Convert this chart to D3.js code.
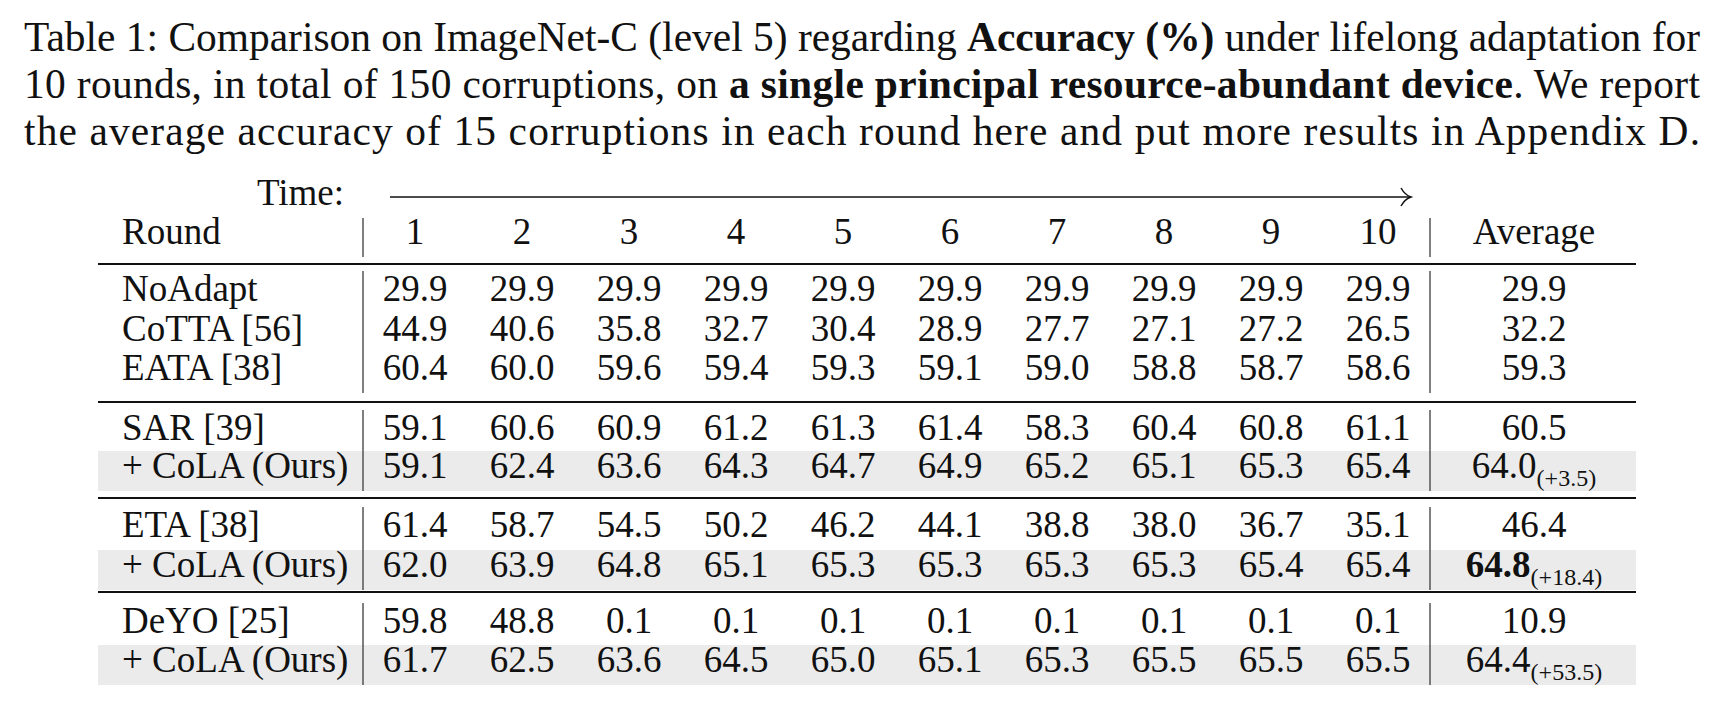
<!DOCTYPE html>
<html><head><meta charset="utf-8">
<script src="https://cdn.jsdelivr.net/npm/d3@7"></script>
<style>body{margin:0;background:#fff}text{font-family:"Liberation Serif","Times New Roman",serif;fill:#111}</style>
</head><body><svg id="c" width="1709" height="710"></svg>
<script>
const captionLines = [
  [["Table 1: Comparison on ImageNet-C (level 5) regarding ", false], ["Accuracy (%)", true], [" under lifelong adaptation for", false]],
  [["10 rounds, in total of 150 corruptions, on ", false], ["a single principal resource-abundant device", true], [". We report", false]],
  [["the average accuracy of 15 corruptions in each round here and put more results in Appendix D.", false]]
];
const rounds = ["1","2","3","4","5","6","7","8","9","10"];
const methods = ["NoAdapt","CoTTA [56]","EATA [38]","SAR [39]","+ CoLA (Ours)","ETA [38]","+ CoLA (Ours)","DeYO [25]","+ CoLA (Ours)"];
const values = [
  [29.9,29.9,29.9,29.9,29.9,29.9,29.9,29.9,29.9,29.9],
  [44.9,40.6,35.8,32.7,30.4,28.9,27.7,27.1,27.2,26.5],
  [60.4,60.0,59.6,59.4,59.3,59.1,59.0,58.8,58.7,58.6],
  [59.1,60.6,60.9,61.2,61.3,61.4,58.3,60.4,60.8,61.1],
  [59.1,62.4,63.6,64.3,64.7,64.9,65.2,65.1,65.3,65.4],
  [61.4,58.7,54.5,50.2,46.2,44.1,38.8,38.0,36.7,35.1],
  [62.0,63.9,64.8,65.1,65.3,65.3,65.3,65.3,65.4,65.4],
  [59.8,48.8,0.1,0.1,0.1,0.1,0.1,0.1,0.1,0.1],
  [61.7,62.5,63.6,64.5,65.0,65.1,65.3,65.5,65.5,65.5]
];
const averages = ["29.9","32.2","59.3","60.5","64.0","46.4","64.8","10.9","64.4"];
const gains = [null,null,null,null,"(+3.5)",null,"(+18.4)",null,"(+53.5)"];
const boldAvg = [false,false,false,false,false,false,true,false,false];
const shaded = [false,false,false,false,true,false,true,false,true];
const groups = [[0,2],[3,4],[5,6],[7,8]];
const rowBase = [301,341,380,440,478,537,577,633,672];

const svg = d3.select("#c");
const FONT = "Liberation Serif";

// caption, justified
const capX = 24, capW = 1676, capBase = [51, 98, 145];
const cap = svg.append("g").attr("font-family", FONT).attr("font-size", 36);
captionLines.forEach((line, i) => {
  const t = cap.append("text").attr("x", capX).attr("y", capBase[i]);
  line.forEach(([s, b]) => t.append("tspan").attr("font-weight", b ? "bold" : null).text(s));
});
const natural = cap.select("text").node().getComputedTextLength();
cap.attr("font-size", 36 * capW / natural);
cap.selectAll("text").attr("textLength", capW).attr("lengthAdjust", "spacing");

// table
const fs = 37;
const x = d3.scalePoint().domain(rounds).range([415, 1378]);
const labelX = 122, sep1 = 363, sep2 = 1430, avgX = 1534, L = 98, R = 1636;

const g = svg.append("g").attr("font-size", fs).attr("font-family", FONT);
rowBase.forEach((b, i) => { if (shaded[i]) g.append("rect").attr("x", L).attr("y", b - 27).attr("width", R - L).attr("height", 40).attr("fill", "#ebebeb"); });

g.append("text").attr("x", 344).attr("y", 205).attr("text-anchor", "end").text("Time:");
g.append("line").attr("x1", 390).attr("x2", 1410).attr("y1", 197).attr("y2", 197).attr("stroke", "#111").attr("stroke-width", 1.5);
g.append("path").attr("d", "M1401,188 Q1405,195 1411,197 Q1405,199 1401,206").attr("fill", "none").attr("stroke", "#111").attr("stroke-width", 1.5);

g.append("text").attr("x", labelX).attr("y", 244).text("Round");
g.selectAll(".hd").data(rounds).join("text").attr("x", d => x(d)).attr("y", 244).attr("text-anchor", "middle").text(d => d);
g.append("text").attr("x", avgX).attr("y", 244).attr("text-anchor", "middle").text("Average");
[sep1, sep2].forEach(sx => g.append("line").attr("x1", sx).attr("x2", sx).attr("y1", 218).attr("y2", 257).attr("stroke", "#555").attr("stroke-width", 1.5));

[264, 402, 498, 592].forEach(y => g.append("line").attr("x1", L).attr("x2", R).attr("y1", y).attr("y2", y).attr("stroke", "#111").attr("stroke-width", 2));

groups.forEach(([a, b]) => [sep1, sep2].forEach(sx => g.append("line").attr("x1", sx).attr("x2", sx)
  .attr("y1", rowBase[a] - 30).attr("y2", rowBase[b] + 13).attr("stroke", "#555").attr("stroke-width", 1.5)));

methods.forEach((m, i) => {
  g.append("text").attr("x", labelX).attr("y", rowBase[i]).text(m);
  g.selectAll(null).data(values[i]).join("text").attr("x", (d, j) => x(rounds[j])).attr("y", rowBase[i])
    .attr("text-anchor", "middle").text(d => d.toFixed(1));
  const t = g.append("text").attr("x", avgX).attr("y", rowBase[i]).attr("text-anchor", "middle");
  t.append("tspan").attr("font-weight", boldAvg[i] ? "bold" : null).text(averages[i]);
  if (gains[i]) t.append("tspan").attr("font-size", 24).attr("dy", 8).text(gains[i]);
});
</script></body></html>
